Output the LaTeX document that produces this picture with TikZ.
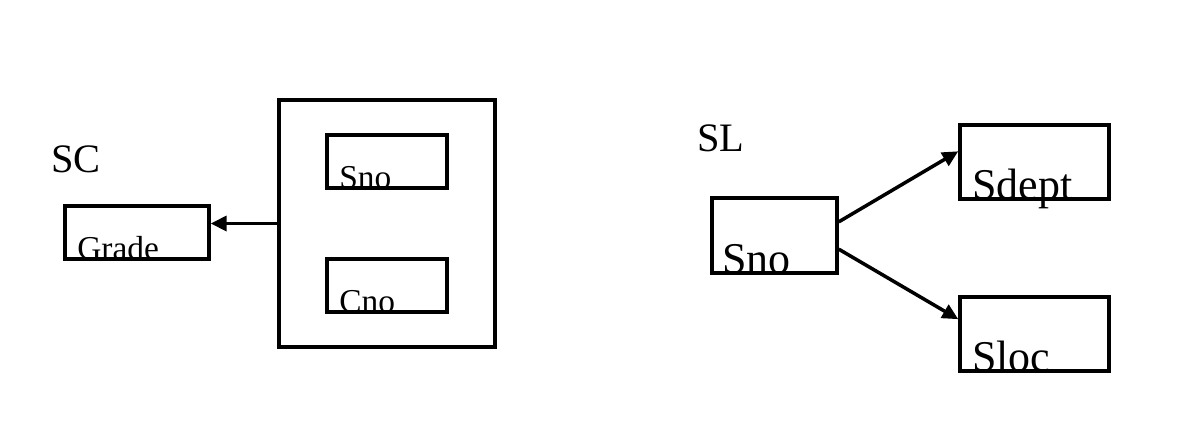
\documentclass[tikz,border=0pt]{standalone}
\usepackage{fontspec}
\setmainfont{Liberation Serif}
\usetikzlibrary{arrows.meta, positioning}

\begin{document}
\begin{tikzpicture}[
    x=0.02cm, y=-0.02cm,
    box/.style={rectangle, draw=black, line width=2pt, inner sep=0pt},
    small/.style={inner sep=0pt, anchor=base west, font=\fontsize{19}{22}\selectfont},
    big/.style={inner sep=0pt, anchor=base west, font=\fontsize{25}{28}\selectfont},
    title/.style={inner sep=0pt, font=\fontsize{23}{26}\selectfont},
    arr/.style={-{Triangle[length=9pt, width=8.5pt]}, line width=2pt}
]
\useasboundingbox (0,0) rectangle (1181,441);

% SC
\node[title] (sc) at (76,159) {SC};
\node[box, minimum width=4.32cm, minimum height=4.94cm] (key) at (387,223.5) {};
\node[small] (snoTxt) at (339,188.5) {Sno};
\node[small] (cnoTxt) at (339,312.5) {Cno};
\node[small] (gradeTxt) at (77,259.5) {Grade};
\node[box, minimum width=2.4cm, minimum height=1.06cm] (sno) at (387,161.5) {};
\node[box, minimum width=2.4cm, minimum height=1.06cm] (cno) at (387,285.5) {};
\node[box, minimum width=2.88cm, minimum height=1.06cm] (grade) at (137,232.5) {};

\draw[arr] (key.west) -- (key.west -| grade.east);

% SL
\node[title] (sl) at (721,138) {SL};
\node[big] (slSnoTxt) at (722,273.5) {Sno};
\node[big] (sdeptTxt) at (972,199.5) {Sdept};
\node[big] (slocTxt) at (972,371.5) {Sloc};
\node[box, minimum width=2.5cm, minimum height=1.5cm] (slSno) at (774.5,235.5) {};
\node[box, minimum width=2.98cm, minimum height=1.48cm] (sdept) at (1034.5,162) {};
\node[box, minimum width=2.98cm, minimum height=1.48cm] (sloc) at (1034.5,334) {};

\draw[arr] (slSno.12) -- (sdept.172);
\draw[arr] (slSno.-12) -- (sloc.169);

\end{tikzpicture}
\end{document}
